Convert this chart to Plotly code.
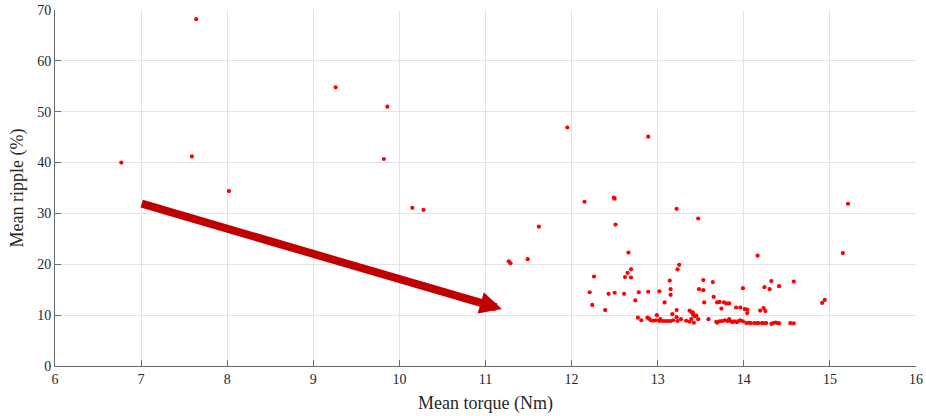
import plotly.graph_objects as go

# Mean torque (Nm) and mean ripple (%) for each design point
torque = [
    6.77, 7.59, 7.64, 8.02, 9.26, 9.86, 9.82, 10.15, 10.28, 11.27, 11.29, 11.49,
    11.62, 11.95, 12.15, 12.49, 12.50, 12.51, 12.89, 13.22, 13.47, 15.21, 15.15,
    14.91, 14.94,
    12.66, 13.25, 13.23, 12.26, 12.65, 12.69, 12.62, 12.69, 13.14, 13.15, 13.48,
    12.21, 12.43, 12.50, 12.61, 12.78, 12.89, 13.02, 13.15, 12.74, 12.24, 13.08,
    12.39, 13.22, 13.17, 13.37, 13.39, 13.41, 13.41, 13.45, 13.43, 12.77, 12.81,
    12.88, 12.90, 12.92, 12.95, 12.99, 12.98, 13.02, 13.06, 13.09, 13.12, 13.15,
    13.03, 13.18, 13.22, 13.23, 13.27, 13.33, 13.37, 13.39, 13.47, 13.42,
    14.16, 13.53, 13.64, 13.53, 13.99, 14.32, 14.24, 14.30, 14.41, 14.58, 13.65,
    13.54, 13.69, 13.72, 13.77, 13.80, 13.83, 13.74, 13.91, 13.96, 14.01, 14.04,
    14.04, 14.19, 14.23, 14.25, 13.59,
    13.68, 13.69, 13.72, 13.75, 13.78, 13.81, 13.83, 13.85, 13.87, 13.89, 13.92,
    13.94, 13.96, 13.99, 14.03, 14.06, 14.08, 14.12, 14.15, 14.17, 14.21, 14.23,
    14.26, 14.32, 14.34, 14.37, 14.39, 14.41, 14.54, 14.58,
]
ripple = [
    40.0, 41.2, 68.2, 34.4, 54.8, 51.0, 40.7, 31.1, 30.7, 20.6, 20.2, 21.0,
    27.4, 46.9, 32.3, 33.1, 32.9, 27.8, 45.1, 30.9, 29.0, 31.9, 22.2,
    12.4, 13.0,
    22.3, 19.9, 19.0, 17.6, 18.3, 19.0, 17.5, 17.4, 16.8, 15.1, 15.1,
    14.5, 14.2, 14.4, 14.2, 14.5, 14.6, 14.7, 14.0, 12.9, 12.0, 12.5,
    11.0, 11.0, 10.2, 10.9, 10.6, 10.5, 10.1, 9.9, 9.8, 9.5, 9.0,
    9.5, 9.3, 9.0, 8.9, 10.0, 9.0, 8.85, 8.85, 8.85, 8.85, 8.85,
    9.2, 9.0, 9.6, 8.85, 9.2, 8.9, 8.7, 9.2, 9.2, 8.5,
    21.7, 16.9, 16.5, 14.9, 15.3, 16.7, 15.5, 15.1, 15.7, 16.6, 13.6,
    12.5, 12.5, 12.6, 12.5, 12.3, 12.3, 11.3, 11.5, 11.5, 11.2, 11.1,
    10.4, 10.9, 11.4, 10.8, 9.2,
    8.7, 8.5, 8.8, 8.85, 9.0, 8.85, 9.2, 8.8, 8.6, 8.8, 8.6,
    8.85, 9.0, 8.8, 8.45, 8.5, 8.45, 8.45, 8.45, 8.45, 8.45, 8.45,
    8.45, 8.3, 8.45, 8.55, 8.45, 8.4, 8.45, 8.4,
]

# Trend arrow (tail -> head), in data units
arrow_tail = (6.99, 32.0)
arrow_head = (11.19, 11.2)

x_ticks = list(range(6, 17))
y_ticks = list(range(0, 71, 10))

font_family = "Liberation Serif"
text_col = "#262626"
axis_col = "#6b6b6b"
grid_col = "#e3e3e3"

fig = go.Figure()
fig.add_trace(go.Scatter(
    x=torque, y=ripple, mode="markers",
    marker=dict(color="#ff0000", size=4.2, line=dict(width=0)),
    showlegend=False, hoverinfo="x+y",
))

fig.add_annotation(
    x=arrow_head[0], y=arrow_head[1], ax=arrow_tail[0], ay=arrow_tail[1],
    xref="x", yref="y", axref="x", ayref="y",
    showarrow=True, arrowhead=2, arrowsize=0.55, arrowwidth=8,
    arrowcolor="#c00000", standoff=0, startstandoff=0, text="",
)

axis_common = dict(
    showgrid=True, gridcolor=grid_col, gridwidth=1,
    showline=True, linecolor=axis_col, linewidth=1,
    ticks="inside", ticklen=6, tickcolor=axis_col, tickwidth=1,
    zeroline=False, mirror=False, automargin=False,
    tickfont=dict(family=font_family, size=14, color=text_col),
)

fig.update_layout(
    width=926, height=416,
    margin=dict(l=55, r=10, t=10, b=50),
    paper_bgcolor="white", plot_bgcolor="white",
    font=dict(family=font_family, color=text_col),
    xaxis=dict(
        range=[6, 16], tickvals=x_ticks, ticktext=[str(v) for v in x_ticks],
        title=dict(text="Mean torque (Nm)", font=dict(family=font_family, size=18, color=text_col), standoff=10),
        **axis_common,
    ),
    yaxis=dict(
        range=[0, 70], tickvals=y_ticks, ticktext=[str(v) for v in y_ticks],
        title=dict(text="Mean ripple (%)", font=dict(family=font_family, size=18, color=text_col), standoff=8),
        **axis_common,
    ),
)

# Remove the default 8px page margin so the figure fills the window exactly
fig.write_html(
    "out.html",
    config={"displayModeBar": False},
    post_script="document.body.style.margin='0';",
)
